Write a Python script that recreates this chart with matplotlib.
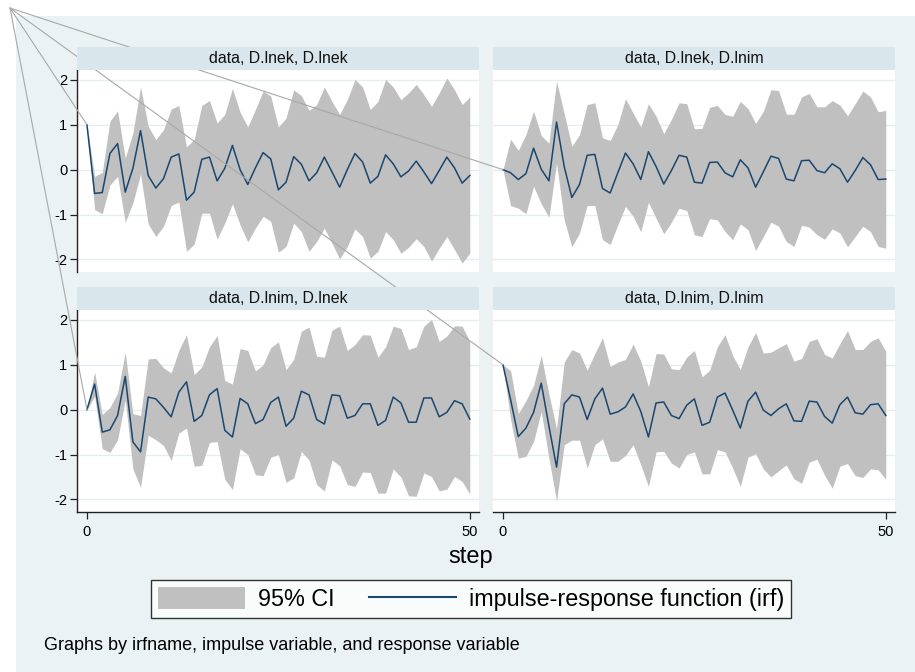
import numpy as np
import matplotlib
matplotlib.use("Agg")
import matplotlib.pyplot as plt
from matplotlib.patches import Rectangle, Patch, ConnectionPatch
from matplotlib.lines import Line2D

plt.rcParams['font.family'] = ['Liberation Sans', 'DejaVu Sans']
plt.rcParams['axes.unicode_minus'] = False

steps = np.arange(51)

titles = ["data, D.lnek, D.lnek", "data, D.lnek, D.lnim",
          "data, D.lnim, D.lnek", "data, D.lnim, D.lnim"]

# panel 1: impulse D.lnek, response D.lnek
irf_1 = [1.0, -0.53, -0.51, 0.36, 0.58, -0.5, 0.03, 0.87, -0.13, -0.41,
         -0.2, 0.28, 0.35, -0.68, -0.5, 0.23, 0.28, -0.25, 0.03, 0.54,
         0.0, -0.33, 0.04, 0.38, 0.24, -0.45, -0.28, 0.29, 0.12, -0.25,
         -0.07, 0.28, -0.05, -0.39, 0.0, 0.36, 0.17, -0.3, -0.15, 0.33,
         0.13, -0.16, -0.03, 0.19, -0.05, -0.31, -0.02, 0.28, 0.04, -0.3,
         -0.13]
up_1 = [1.0, -0.15, -0.06, 1.08, 1.31, 0.26, 0.82, 1.84, 0.97, 0.67,
        0.89, 1.35, 1.43, 0.51, 0.67, 1.43, 1.54, 1.04, 1.23, 1.81,
        1.28, 0.95, 1.34, 1.75, 1.64, 0.95, 1.15, 1.78, 1.65, 1.32,
        1.45, 1.84, 1.52, 1.23, 1.56, 2.01, 1.84, 1.34, 1.52, 2.01,
        1.84, 1.56, 1.71, 1.9, 1.67, 1.41, 1.71, 2.04, 1.78, 1.45,
        1.62]
lo_1 = [1.0, -0.89, -0.98, -0.34, -0.15, -1.17, -0.74, -0.1, -1.21, -1.49,
        -1.26, -0.8, -0.72, -1.82, -1.66, -0.97, -0.97, -1.55, -1.19, -0.76,
        -1.23, -1.61, -1.3, -1.04, -1.15, -1.84, -1.71, -1.19, -1.38, -1.82,
        -1.6, -1.3, -1.64, -1.99, -1.71, -1.32, -1.49, -1.97, -1.82, -1.38,
        -1.56, -1.86, -1.73, -1.54, -1.71, -2.04, -1.75, -1.49, -1.78, -2.08,
        -1.86]

# panel 2: impulse D.lnek, response D.lnim
irf_2 = [0.0, -0.07, -0.22, -0.09, 0.48, 0.01, -0.25, 1.06, 0.07, -0.62,
         -0.33, 0.32, 0.34, -0.42, -0.52, -0.07, 0.37, 0.13, -0.22, 0.4,
         0.07, -0.32, -0.02, 0.32, 0.28, -0.28, -0.3, 0.16, 0.17, -0.07,
         -0.16, 0.22, 0.04, -0.39, -0.05, 0.3, 0.25, -0.21, -0.25, 0.2,
         0.21, -0.02, -0.07, 0.13, 0.02, -0.28, -0.02, 0.27, 0.11, -0.22,
         -0.21]
up_2 = [0.0, 0.68, 0.43, 0.78, 1.3, 0.76, 0.59, 1.97, 1.25, 0.52,
        0.78, 1.45, 1.49, 0.71, 0.65, 1.0, 1.58, 1.26, 0.95, 1.47,
        1.19, 0.8, 1.12, 1.49, 1.47, 0.91, 0.92, 1.39, 1.43, 1.23,
        1.19, 1.52, 1.36, 1.03, 1.3, 1.78, 1.76, 1.24, 1.23, 1.62,
        1.7, 1.4, 1.4, 1.54, 1.44, 1.2, 1.47, 1.75, 1.62, 1.29,
        1.32]
lo_2 = [0.0, -0.8, -0.86, -0.98, -0.37, -0.76, -1.06, 0.15, -1.12, -1.72,
        -1.41, -0.8, -0.8, -1.56, -1.67, -1.23, -0.82, -1.04, -1.38, -0.73,
        -1.08, -1.43, -1.17, -0.86, -0.91, -1.45, -1.49, -1.09, -1.12, -1.38,
        -1.56, -1.21, -1.34, -1.8, -1.49, -1.17, -1.26, -1.6, -1.71, -1.24,
        -1.28, -1.45, -1.55, -1.32, -1.41, -1.72, -1.49, -1.26, -1.38, -1.71,
        -1.75]

# panel 3: impulse D.lnim, response D.lnek
irf_3 = [0.0, 0.57, -0.5, -0.45, -0.13, 0.74, -0.72, -0.94, 0.28, 0.24,
         0.05, -0.16, 0.39, 0.62, -0.26, -0.13, 0.33, 0.47, -0.46, -0.61,
         0.25, 0.13, -0.31, -0.22, 0.16, 0.28, -0.37, -0.19, 0.41, 0.33,
         -0.22, -0.32, 0.33, 0.31, -0.19, -0.13, 0.13, 0.13, -0.35, -0.24,
         0.28, 0.15, -0.28, -0.28, 0.26, 0.26, -0.16, -0.06, 0.2, 0.13,
         -0.21]
up_3 = [0.0, 0.84, -0.11, 0.05, 0.37, 1.28, -0.09, -0.13, 1.13, 1.14,
        0.93, 0.82, 1.32, 1.67, 0.78, 0.95, 1.4, 1.65, 0.65, 0.57,
        1.36, 1.32, 0.86, 1.0, 1.38, 1.51, 0.89, 1.12, 1.75, 1.84,
        1.19, 1.17, 1.77, 1.86, 1.32, 1.45, 1.67, 1.66, 1.17, 1.4,
        1.86, 1.81, 1.34, 1.4, 1.86, 2.01, 1.52, 1.64, 1.87, 1.86,
        1.52]
lo_3 = [0.0, 0.3, -0.87, -0.95, -0.67, 0.22, -1.32, -1.73, -0.57, -0.67,
        -0.8, -1.13, -0.52, -0.41, -1.26, -1.24, -0.73, -0.71, -1.55, -1.78,
        -0.87, -1.0, -1.45, -1.47, -1.06, -1.0, -1.62, -1.52, -0.93, -1.12,
        -1.67, -1.81, -1.12, -1.25, -1.67, -1.71, -1.39, -1.4, -1.86, -1.86,
        -1.32, -1.5, -1.92, -1.93, -1.41, -1.49, -1.81, -1.77, -1.49, -1.6,
        -1.88]

# panel 4: impulse D.lnim, response D.lnim
irf_4 = [1.0, 0.22, -0.6, -0.41, -0.06, 0.59, -0.36, -1.28, 0.13, 0.33,
         0.28, -0.22, 0.24, 0.48, -0.1, -0.05, 0.06, 0.35, -0.04, -0.61,
         0.15, 0.17, -0.13, -0.2, 0.1, 0.24, -0.35, -0.28, 0.28, 0.37,
         -0.01, -0.41, 0.19, 0.39, -0.01, -0.13, 0.02, 0.13, -0.25, -0.26,
         0.19, 0.17, -0.15, -0.3, 0.11, 0.28, -0.07, -0.1, 0.11, 0.13,
         -0.13]
up_4 = [1.0, 0.87, -0.09, 0.2, 0.54, 1.21, 0.35, -0.43, 1.06, 1.34,
        1.26, 0.88, 1.25, 1.6, 0.96, 1.06, 1.12, 1.46, 1.08, 0.51,
        1.25, 1.24, 0.91, 0.89, 1.17, 1.32, 0.73, 0.88, 1.4, 1.67,
        1.21, 0.89, 1.4, 1.72, 1.26, 1.28, 1.38, 1.47, 1.08, 1.14,
        1.52, 1.58, 1.23, 1.15, 1.47, 1.76, 1.34, 1.34, 1.52, 1.6,
        1.3]
lo_4 = [1.0, -0.22, -1.08, -1.04, -0.71, -0.04, -1.08, -2.04, -0.78, -0.68,
        -0.68, -1.3, -0.78, -0.65, -1.15, -1.15, -1.02, -0.78, -1.23, -1.71,
        -0.94, -0.93, -1.19, -1.3, -1.0, -0.94, -1.43, -1.43, -0.89, -0.94,
        -1.3, -1.71, -1.06, -0.98, -1.32, -1.5, -1.36, -1.23, -1.54, -1.64,
        -1.17, -1.1, -1.46, -1.75, -1.26, -1.2, -1.47, -1.51, -1.32, -1.34,
        -1.55]

irfs = [irf_1, irf_2, irf_3, irf_4]
uppers = [up_1, up_2, up_3, up_4]
lowers = [lo_1, lo_2, lo_3, lo_4]

y_ticks = [-2, -1, 0, 1, 2]
x_ticks = [0, 50]

W, H = 915, 672
bg_col = '#eaf2f3'
strip_col = '#d9e6eb'
band_col = '#c0c0c0'
line_col = '#1a476f'

fig = plt.figure(figsize=(W / 100, H / 100), dpi=100, facecolor='white')
fig.add_artist(Rectangle((16 / W, 0), 1 - 16 / W, 1 - 16 / H, transform=fig.transFigure,
                         facecolor=bg_col, edgecolor='none', zorder=-5))


def px_box(x0, y0, x1, y1):
    # pixel box (top-left origin) -> figure fraction [left, bottom, width, height]
    return [x0 / W, 1 - y1 / H, (x1 - x0) / W, (y1 - y0) / H]


cols = [(77, 479), (493, 895)]
rows = [(70, 272), (310, 512)]
strip_h = 23

axes = []
for i in range(4):
    r, c = divmod(i, 2)
    x0, x1 = cols[c]
    y0, y1 = rows[r]
    ax = fig.add_axes(px_box(x0, y0, x1, y1))
    ax.set_facecolor('white')
    ax.fill_between(steps, lowers[i], uppers[i], color=band_col, linewidth=0, zorder=2)
    ax.plot(steps, irfs[i], color=line_col, linewidth=1.1, zorder=3)
    ax.set_xlim(-1.3, 51.2)
    ax.set_ylim(-2.28, 2.22)
    ax.set_yticks(y_ticks)
    ax.set_xticks(x_ticks)
    ax.grid(axis='y', color='#e4eef1', linewidth=1.0, zorder=1)
    ax.set_axisbelow(True)
    for s in ax.spines.values():
        s.set_visible(False)
    ax.tick_params(axis='y', direction='out', length=5, width=0.9, color='#222222',
                   labelsize=10.5, pad=2)
    ax.tick_params(axis='x', direction='out', length=5, width=0.9, color='#222222',
                   labelsize=10.5, pad=4)
    if c == 0:
        ax.spines['left'].set_visible(True)
        ax.spines['left'].set_color('#222222')
        ax.spines['left'].set_linewidth(1.0)
    else:
        ax.tick_params(axis='y', length=0, labelleft=False)
    if r == 1:
        ax.spines['bottom'].set_visible(True)
        ax.spines['bottom'].set_color('#222222')
        ax.spines['bottom'].set_linewidth(1.0)
    else:
        ax.tick_params(axis='x', length=0, labelbottom=False)
    axes.append(ax)

    # title strip
    fig.add_artist(Rectangle((x0 / W, 1 - y0 / H), (x1 - x0) / W, strip_h / H,
                             transform=fig.transFigure, facecolor=strip_col,
                             edgecolor='none', zorder=4))
    fig.text((x0 + x1) / 2 / W, 1 - (y0 - strip_h / 2) / H, titles[i],
             ha='center', va='center', fontsize=11.4, color='#111111', zorder=5)

# stray connector lines from the corner to the first point of each panel
for i, ax in enumerate(axes):
    cp = ConnectionPatch(xyA=(10 / W, 1 - 8 / H), coordsA=fig.transFigure,
                         xyB=(steps[0], irfs[i][0]), coordsB=ax.transData,
                         color='#a8a8a8', linewidth=0.8, zorder=3.5)
    fig.add_artist(cp)

fig.text(471 / W, 1 - 557 / H, "step", ha='center', va='center', fontsize=17)

handles = [Patch(facecolor=band_col, edgecolor='none'),
           Line2D([0], [0], color=line_col, linewidth=1.5)]
leg = fig.legend(handles, ["95% CI", "impulse-response function (irf)"],
                 loc='center', bbox_to_anchor=(471 / W, 1 - 599 / H), ncol=2,
                 fontsize=16.8, frameon=True, fancybox=False, edgecolor='black',
                 handlelength=3.73, handleheight=1.03, handletextpad=0.55,
                 columnspacing=1.5, borderpad=0.3, borderaxespad=0)
leg.get_frame().set_linewidth(1.0)
leg.get_frame().set_facecolor('white')

fig.text(44 / W, 1 - 645 / H, "Graphs by irfname, impulse variable, and response variable",
         ha='left', va='center', fontsize=13)

fig.savefig("out.png", dpi=100, facecolor=fig.get_facecolor())
